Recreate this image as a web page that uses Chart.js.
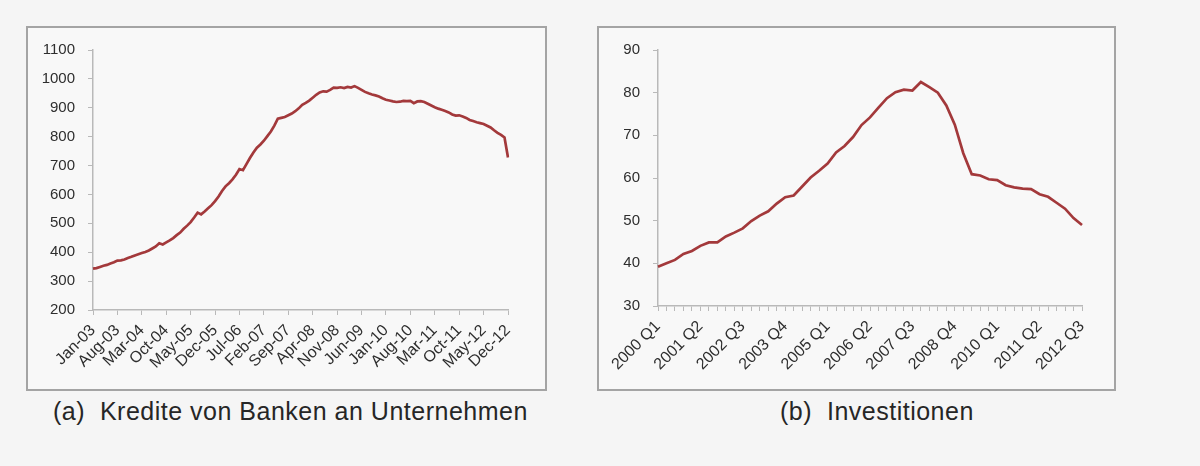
<!DOCTYPE html>
<html>
<head>
<meta charset="utf-8">
<script src="https://cdn.jsdelivr.net/npm/chart.js@4.4.1/dist/chart.umd.min.js"></script>
<style>
    html, body { margin: 0; padding: 0; }
    body {
        width: 1200px; height: 466px; position: relative; overflow: hidden;
        background: #f5f5f5;
        font-family: 'Liberation Sans', Arial, sans-serif;
    }
    .box {
        position: absolute; top: 26px; height: 365px;
        box-sizing: border-box; border: 2px solid #a4a4a4; background: #f8f8f8;
    }
    #boxA { left: 26px; width: 521px; }
    #boxB { left: 597px; width: 519px; }
    .box canvas { position: absolute; left: 0; top: 0; }
    .caption {
        position: absolute; top: 397px; font-size: 25px; line-height: 28px;
        letter-spacing: 0.5px; color: #262626; white-space: pre;
    }
</style>
</head>
<body>
<div class="box" id="boxA"><canvas id="creditChart" width="517" height="361" style="width:517px;height:361px"></canvas></div>
<div class="box" id="boxB"><canvas id="investChart" width="515" height="361" style="width:515px;height:361px"></canvas></div>
<div class="caption" style="left:53px">(a)  Kredite von Banken an Unternehmen</div>
<div class="caption" style="left:780px">(b)  Investitionen</div>

<script>
// Month names for the credit chart categories (Jan-03 .. Dec-12)
const monthNames = ['Jan', 'Feb', 'Mar', 'Apr', 'May', 'Jun', 'Jul', 'Aug', 'Sep', 'Oct', 'Nov', 'Dec'];
const creditYears = [3, 4, 5, 6, 7, 8, 9, 10, 11, 12];

// Kredite von Banken an Unternehmen, monthly
const creditValues = [
    343, 345, 349, 353, 356, 361, 365, 371, 372, 375, 380, 384,
    389, 393, 397, 401, 406, 413, 420, 431, 427, 434, 441, 449,
    459, 468, 481, 492, 504, 520, 537, 531, 541, 552, 563, 577,
    593, 612, 628, 639, 652, 668, 688, 684, 705, 726, 745, 762,
    773, 786, 802, 818, 838, 862, 865, 868, 874, 880, 888, 898,
    910, 917, 925, 935, 945, 953, 957, 956, 962, 970, 969, 971,
    968, 972, 970, 975, 969, 962, 955, 950, 946, 943, 939, 933,
    928, 925, 922, 920, 921, 924, 923, 924, 916, 922, 923, 920,
    914, 908, 902, 897, 893, 889, 884, 877, 873, 874, 870, 865,
    858, 854, 850, 847, 844, 838, 832, 822, 813, 806, 797, 728
];

// Investitionen, quarterly (2000 Q1 .. 2012 Q3)
const investYears = [2000, 2001, 2002, 2003, 2004, 2005, 2006, 2007, 2008, 2009, 2010, 2011, 2012];
const investValues = [
    39.2, 40.0, 40.8, 42.2, 42.9, 44.1, 44.9, 44.9, 46.3, 47.2,
    48.2, 49.9, 51.2, 52.2, 54.0, 55.5, 55.9, 58.0, 60.1, 61.7,
    63.4, 66.0, 67.5, 69.6, 72.4, 74.2, 76.5, 78.7, 80.1, 80.7,
    80.5, 82.5, 81.3, 80.0, 77.0, 72.5, 65.8, 60.9, 60.6, 59.7,
    59.5, 58.3, 57.8, 57.5, 57.4, 56.2, 55.6, 54.2, 52.8, 50.6,
    49.0
];

const creditLabels = [];
creditYears.forEach(y => monthNames.forEach(m => creditLabels.push(m + '-' + String(y).padStart(2, '0'))));

const investLabels = [];
investYears.forEach(y => [1, 2, 3, 4].forEach(q => investLabels.push(y + ' Q' + q)));
investLabels.length = investValues.length;

const lineColor = '#a3393b';
const axisColor = '#b9b9b9';
const yFont = { family: "'Liberation Sans', Arial, sans-serif", size: 15 };
const xFont = { family: "'Liberation Sans', Arial, sans-serif", size: 16 };
const tickColor = '#2e2e2e';

function baseOptions(yMin, yMax, yStep, yWidth, xHeight, padTop, padRight) {
    return {
        responsive: false,
        animation: false,
        layout: { padding: { top: padTop, right: padRight, left: 0, bottom: 0 } },
        plugins: { legend: { display: false }, tooltip: { enabled: false } },
        scales: {
            x: {
                offset: false,
                afterFit: s => { s.height = xHeight; },
                grid: { drawOnChartArea: false, tickLength: 5, tickColor: axisColor },
                border: { color: axisColor, width: 1.5 },
                ticks: {
                    autoSkip: false, minRotation: 45, maxRotation: 45,
                    color: tickColor, font: xFont, padding: 6
                }
            },
            y: {
                min: yMin, max: yMax,
                afterFit: s => { s.width = yWidth; },
                grid: { drawOnChartArea: false, tickLength: 5, tickColor: axisColor },
                border: { color: axisColor, width: 1.5 },
                ticks: {
                    stepSize: yStep, color: tickColor, font: yFont, padding: 13,
                    callback: v => String(v)
                }
            }
        }
    };
}

// Credit chart
const creditOptions = baseOptions(200, 1100, 100, 65, 79, 19, 37);
creditOptions.scales.x.afterBuildTicks = s => { s.ticks = s.ticks.filter(t => t.value % 7 === 0); };
new Chart(document.getElementById('creditChart'), {
    type: 'line',
    data: {
        labels: creditLabels,
        datasets: [{
            data: creditValues,
            borderColor: lineColor,
            borderWidth: 2.7,
            pointRadius: 0,
            tension: 0
        }]
    },
    options: creditOptions
});

// Investment chart
const investOptions = baseOptions(30, 90, 10, 59, 83, 19, 32);
investOptions.scales.x.ticks.callback = function (value, index) {
    return index % 5 === 0 ? this.getLabelForValue(value) : '';
};
new Chart(document.getElementById('investChart'), {
    type: 'line',
    data: {
        labels: investLabels,
        datasets: [{
            data: investValues,
            borderColor: lineColor,
            borderWidth: 2.7,
            pointRadius: 0,
            tension: 0
        }]
    },
    options: investOptions
});
</script>
</body>
</html>
